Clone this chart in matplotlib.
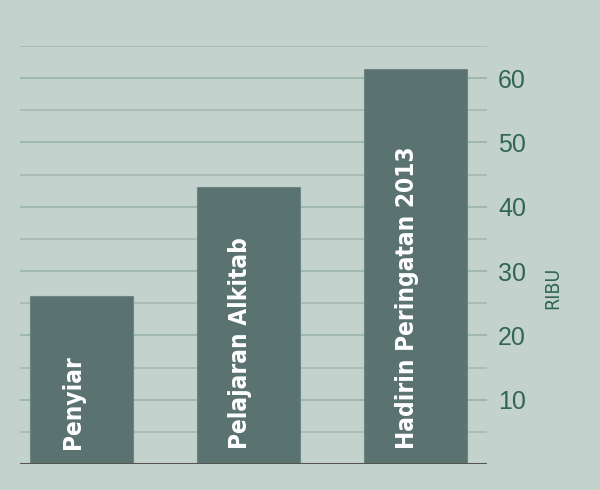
import matplotlib
matplotlib.use("Agg")
import matplotlib.pyplot as plt
import numpy as np

categories = ["Penyiar", "Pelajaran Alkitab", "Hadirin Peringatan 2013"]
values = [26.1, 43.1, 61.4]
yticks = [10, 20, 30, 40, 50, 60]
ylabel = "RIBU"

BG = "#c4d2ce"
BAR = "#5a7371"
TXT = "#2f6656"

fig = plt.figure(figsize=(6.0, 4.9), dpi=100, facecolor=BG)
ax = fig.add_axes([0.0333, 0.0531, 0.7784, 0.8531])
ax.set_facecolor(BG)

x = np.arange(len(categories))
ax.set_xlim(-0.368, 2.428)
ax.set_ylim(0, 65)

for g in np.arange(5, 66, 5):
    col = "#98b3aa" if g % 10 == 0 else "#a9b7b2"
    ax.axhline(g, color=col, lw=1.2, zorder=1)

ax.bar(x, values, width=0.617, color=BAR, edgecolor="#6d8583", lw=0.8, zorder=2)
ax.axhline(0, color="#575450", lw=2.2, zorder=3)

for xi, c in zip(x, categories):
    ax.text(xi - 0.01, 2.4, c, rotation=90, rotation_mode="anchor", ha="left", va="baseline",
            color="white", fontsize=17.5, fontweight="bold", fontstretch="condensed",
            family="DejaVu Sans", zorder=4)

for s in ax.spines.values():
    s.set_visible(False)
ax.set_xticks([])
ax.yaxis.tick_right()
ax.set_yticks(yticks)
ax.set_yticklabels([str(t) for t in yticks], fontsize=18, color=TXT, family="Liberation Sans")
ax.tick_params(axis="y", length=0, pad=8)

fig.text(553 / 600, 1 - 288 / 490, ylabel, rotation=90, ha="center", va="center",
         fontsize=14, color=TXT, family="DejaVu Sans", fontstretch="condensed")

fig.savefig("out.png", dpi=100, facecolor=BG)
